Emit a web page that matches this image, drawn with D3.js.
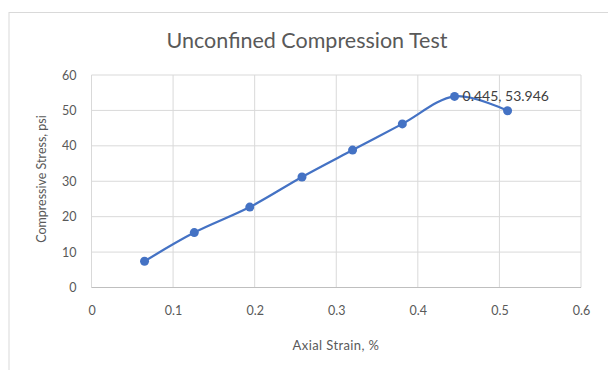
<!DOCTYPE html>
<html>
<head>
<meta charset="utf-8">
<script src="https://cdn.jsdelivr.net/npm/d3@7"></script>
<style>
  html, body { margin: 0; padding: 0; background: #fff; }
  svg { display: block; }
  text { font-family: Lato, "Open Sans", sans-serif; }
</style>
</head>
<body>
<svg id="chart" width="608" height="370"></svg>
<script>
// Unconfined compression test: axial strain (%) vs compressive stress (psi)
const strain = [0.065, 0.126, 0.194, 0.258, 0.320, 0.381, 0.445, 0.510];
const stress = [7.4, 15.5, 22.7, 31.2, 38.8, 46.2, 53.946, 49.9];
const xTicks = [0, 0.1, 0.2, 0.3, 0.4, 0.5, 0.6];
const yTicks = [0, 10, 20, 30, 40, 50, 60];
const labelIndex = 6; // point carrying a value label

const points = strain.map((x, i) => ({ x, y: stress[i] }));

const svg = d3.select("#chart");
const plot = { left: 91.5, right: 581, top: 75, bottom: 287.5 };

// chart card outline
svg.append("rect")
  .attr("x", 9).attr("y", 12.5)
  .attr("width", 640).attr("height", 400)
  .attr("fill", "#fff").attr("stroke", "#d9d9d9").attr("stroke-width", 1);

const x = d3.scaleLinear().domain([0, 0.6]).range([plot.left, plot.right]);
const y = d3.scaleLinear().domain([0, 60]).range([plot.bottom, plot.top]);

// gridlines
const grid = svg.append("g");
grid.selectAll(".gx").data(xTicks).join("line")
  .attr("x1", d => x(d)).attr("x2", d => x(d))
  .attr("y1", plot.top).attr("y2", plot.bottom)
  .attr("stroke", "#d9d9d9").attr("stroke-width", 1);
grid.selectAll(".gy").data(yTicks).join("line")
  .attr("x1", plot.left).attr("x2", plot.right)
  .attr("y1", d => y(d)).attr("y2", d => y(d))
  .attr("stroke", d => d === 0 ? "#bfbfbf" : "#d9d9d9").attr("stroke-width", 1);

// axes (labels only)
const xAxis = svg.append("g")
  .attr("transform", `translate(0,${plot.bottom})`)
  .call(d3.axisBottom(x).tickValues(xTicks).tickSize(0).tickPadding(19).tickFormat(d3.format("")));
const yAxis = svg.append("g")
  .attr("transform", `translate(${plot.left},0)`)
  .call(d3.axisLeft(y).tickValues(yTicks).tickSize(0).tickPadding(15).tickFormat(d3.format("")));
[xAxis, yAxis].forEach(a => {
  a.select(".domain").remove();
  a.selectAll("text")
    .attr("fill", "#595959")
    .style("font-family", "Lato, 'Open Sans', sans-serif")
    .style("font-size", "12.5px");
});

// smoothed series line
const line = d3.line()
  .x(d => x(d.x)).y(d => y(d.y))
  .curve(d3.curveCatmullRom.alpha(0));
svg.append("path")
  .datum(points)
  .attr("d", line)
  .attr("fill", "none")
  .attr("stroke", "#4472c4")
  .attr("stroke-width", 2.25)
  .attr("stroke-linecap", "round");

// markers
svg.selectAll(".pt").data(points).join("circle")
  .attr("cx", d => x(d.x)).attr("cy", d => y(d.y))
  .attr("r", 4.5)
  .attr("fill", "#4472c4");

// value label at the peak
const lp = points[labelIndex];
svg.append("text")
  .attr("x", x(lp.x) + 8).attr("y", y(lp.y) + 5)
  .attr("fill", "#404040")
  .style("font-size", "14px")
  .text(`${lp.x}, ${lp.y}`);

// title
svg.append("text")
  .attr("x", 307).attr("y", 48)
  .attr("text-anchor", "middle")
  .attr("fill", "#595959")
  .style("font-size", "21.5px")
  .text("Unconfined Compression Test");

// axis titles
svg.append("text")
  .attr("x", 336).attr("y", 350)
  .attr("text-anchor", "middle")
  .attr("fill", "#595959")
  .style("font-size", "13px")
  .style("letter-spacing", "0.4px")
  .text("Axial Strain, %");
svg.append("text")
  .attr("transform", "translate(46,179) rotate(-90)")
  .attr("text-anchor", "middle")
  .attr("fill", "#595959")
  .style("font-size", "12.5px")
  .text("Compressive Stress, psi");
</script>
</body>
</html>
